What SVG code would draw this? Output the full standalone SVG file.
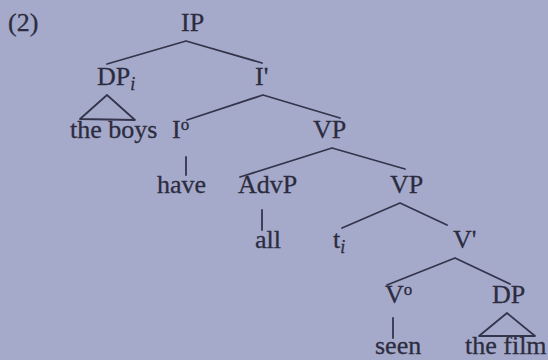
<svg xmlns="http://www.w3.org/2000/svg" width="548" height="360" viewBox="0 0 548 360">
<style>
text{font-family:"Liberation Serif","Times New Roman",serif;font-size:26px;fill:#2c2c40;stroke:#2c2c40;stroke-width:0.3}
.sub{font-size:18px;font-style:italic}
.sup{font-size:17px}
.e{stroke:#34344c;stroke-width:1.8;fill:none;stroke-linecap:round;stroke-linejoin:round}
</style>
<rect width="548" height="360" fill="#a6aaca"/>
<text x="8" y="31">(2)</text>
<g id="IP"><text x="181" y="31">IP</text></g>
<g id="DPi"><text x="97" y="85">DP<tspan class="sub" dy="5">i</tspan></text></g>
<g id="Ibar"><text x="255" y="85">I'</text></g>
<g id="theboys"><text x="70" y="138">the boys</text></g>
<g id="I0"><text x="172" y="138">I<tspan class="sup" dy="-8">o</tspan></text></g>
<g id="VP1"><text x="313" y="138">VP</text></g>
<g id="have"><text x="157" y="193">have</text></g>
<g id="AdvP"><text x="238" y="193">AdvP</text></g>
<g id="VP2"><text x="390" y="193">VP</text></g>
<g id="all"><text x="255" y="248">all</text></g>
<g id="ti"><text x="333" y="248">t<tspan class="sub" dy="5">i</tspan></text></g>
<g id="Vbar"><text x="453" y="248">V'</text></g>
<g id="V0"><text x="385" y="303">V<tspan class="sup" dy="-8">o</tspan></text></g>
<g id="DP"><text x="492" y="303">DP</text></g>
<g id="seen"><text x="375" y="354">seen</text></g>
<g id="thefilm"><text x="465" y="354">the film</text></g>
<g id="connectors" class="e">
<path d="M107,64 L186,41 L262,63"/>
<path d="M80,119 L107,95 L135,120 Z"/>
<path d="M187,120 L263,95 L340,118"/>
<path d="M186,157 L186,175"/>
<path d="M240,177 L332,148 L405,169"/>
<path d="M262,210 L262,230"/>
<path d="M342,228 L400,203 L447,225"/>
<path d="M387,285 L455,258 L510,284"/>
<path d="M393,318 L393,338"/>
<path d="M479,336 L507,313 L535,336 Z"/>
</g>
</svg>
